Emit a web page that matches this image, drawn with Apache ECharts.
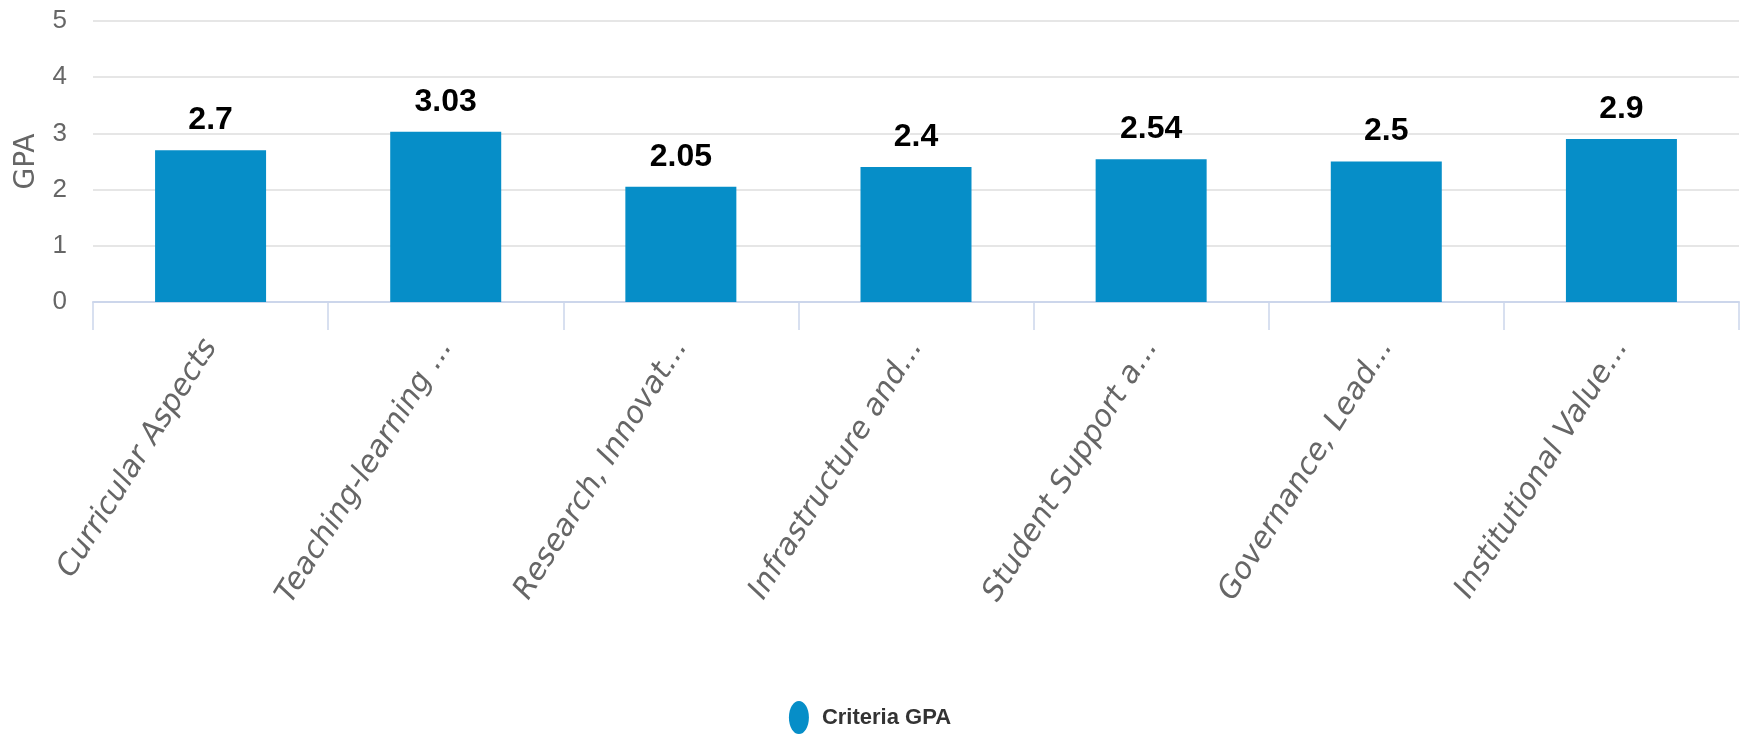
<!DOCTYPE html>
<html>
<head>
<meta charset="utf-8">
<script src="https://cdn.jsdelivr.net/npm/echarts@6/dist/echarts.min.js"></script>
<style>
html,body{margin:0;padding:0;background:#fff;}
#chart{width:1740px;height:735px;}
</style>
</head>
<body>
<div id="chart"></div>
<script>
// categories (already truncated as shown on the axis)
var categories = ['Curricular Aspects','Teaching-learning ...','Research, Innovat...','Infrastructure and...','Student Support a...','Governance, Lead...','Institutional Value...'];
var gpaValues = [2.7, 3.03, 2.05, 2.4, 2.54, 2.5, 2.9];
var seriesName = 'Criteria GPA';

var narrow = "'Liberation Sans Narrow','Liberation Sans',sans-serif";

var chart = echarts.init(document.getElementById('chart'));
chart.setOption({
	animation:false,
	backgroundColor:'#fff',
	grid:{
		left:93,
		right:1,
		top:21,
		bottom:433,
	},
	legend:{
		top:696,
		left:'center',
		itemWidth:20,
		itemHeight:33,
		icon:'path://M10,0 A10,16.5 0 1 1 10,33 A10,16.5 0 1 1 10,0 Z',
		textStyle:{
			fontFamily:narrow,
			fontSize:22,
			fontWeight:'bold',
			color:'#333',
			padding:[0,0,0,8],
		},
		data:[seriesName],
	},
	xAxis:{
		type:'category',
		data:categories,
		axisLine:{lineStyle:{color:'#ccd6eb',width:2}},
		axisTick:{show:true,length:28,lineStyle:{color:'#ccd6eb',width:1.5}},
		axisLabel:{
			interval:0,
			rotate:58,
			margin:40,
			fontFamily:"'DejaVu Sans',sans-serif",
			fontStyle:'italic',
			fontSize:30,
			color:'#666',
		},
	},
	yAxis:{
		type:'value',
		min:0,
		max:5,
		interval:1,
		name:'GPA',
		nameLocation:'middle',
		nameGap:52,
		nameTextStyle:{
			fontFamily:"'DejaVu Sans',sans-serif",
			fontSize:28,
			color:'#666',
		},
		axisLine:{show:false},
		axisTick:{show:false},
		axisLabel:{
			margin:26,
			fontFamily:narrow,
			fontSize:26,
			color:'#666',
		},
		splitLine:{lineStyle:{color:'#e6e6e6',width:2}},
	},
	series:[{
		name:seriesName,
		type:'bar',
		barWidth:111,
		itemStyle:{color:'#068ec8'},
		label:{
			show:true,
			position:'top',
			distance:14,
			fontFamily:narrow,
			fontSize:32,
			fontWeight:'bold',
			color:'#000',
			textBorderColor:'#fff',
			textBorderWidth:2,
		},
		data:gpaValues,
	}]
});
</script>
</body>
</html>
